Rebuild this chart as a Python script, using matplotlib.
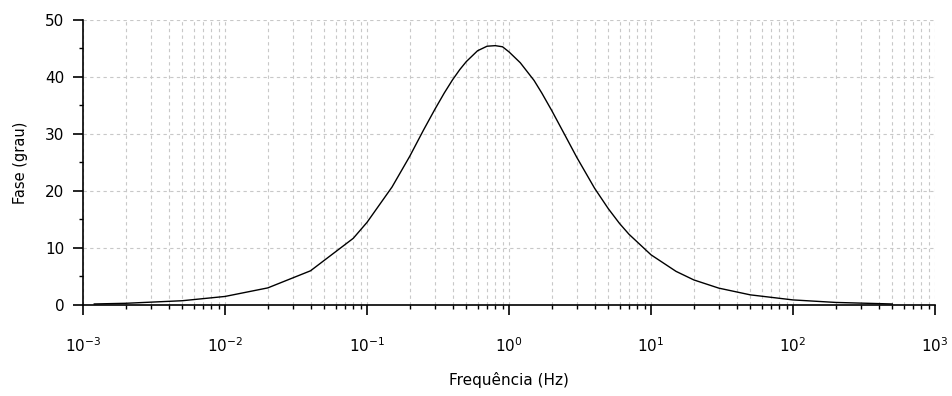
import matplotlib
matplotlib.use("Agg")
import matplotlib.pyplot as plt
from matplotlib.ticker import LogLocator, MultipleLocator, FixedLocator

# values
freq_hz = [1.2e-3, 2e-3, 5e-3, 1e-2, 2e-2, 4e-2, 8e-2, 0.1, 0.15, 0.2, 0.25, 0.3,
           0.35, 0.4, 0.45, 0.5, 0.6, 0.7, 0.8, 0.9, 1.0, 1.2, 1.5, 1.7, 2, 2.5,
           3, 4, 5, 6, 7, 10, 15, 20, 30, 50, 100, 200, 500]
phase_deg = [0.18, 0.30, 0.75, 1.5, 3.0, 6.0, 11.7, 14.5, 20.7, 26.1, 30.7, 34.3,
             37.2, 39.5, 41.3, 42.7, 44.6, 45.4, 45.5, 45.3, 44.4, 42.5, 39.4, 37.2,
             34.1, 29.6, 25.9, 20.5, 16.9, 14.3, 12.4, 8.8, 5.9, 4.4, 2.96, 1.78,
             0.89, 0.45, 0.18]
x_ticks = [1e-3, 1e-2, 1e-1, 1e0, 1e1, 1e2, 1e3]
x_tick_labels = ["$10^{-3}$", "$10^{-2}$", "$10^{-1}$", "$10^{0}$",
                 "$10^{1}$", "$10^{2}$", "$10^{3}$"]
y_ticks = [0, 10, 20, 30, 40, 50]

plt.rcParams["font.family"] = ["DejaVu Sans"]
plt.rcParams["mathtext.fontset"] = "dejavusans"

fig = plt.figure(figsize=(9.52, 3.96), dpi=100)
ax = fig.add_axes([0.0872, 0.2298, 0.8950, 0.7197])

ax.plot(freq_hz, phase_deg, color="black", linewidth=1.0)

ax.set_xscale("log")
ax.set_xlim(1e-3, 1e3)
ax.set_ylim(0, 50)

ax.xaxis.set_major_locator(FixedLocator(x_ticks))
ax.set_xticklabels(x_tick_labels)
ax.xaxis.set_minor_locator(LogLocator(base=10, subs=range(2, 10), numticks=20))
ax.yaxis.set_major_locator(FixedLocator(y_ticks))
ax.yaxis.set_minor_locator(MultipleLocator(5))

for s in ["top", "right"]:
    ax.spines[s].set_visible(False)
for s in ["left", "bottom"]:
    ax.spines[s].set_linewidth(1.2)

ax.tick_params(axis="both", which="major", direction="out", length=7.5, width=1.2,
               labelsize=11, colors="black")
ax.tick_params(axis="both", which="minor", direction="out", length=3, width=1.0)
ax.tick_params(axis="x", which="major", pad=15)
ax.tick_params(axis="y", which="major", pad=6)

ax.grid(True, which="major", axis="both", color="#c8c8c8", linestyle=(0, (3, 3)), linewidth=0.8)
ax.grid(True, which="minor", axis="x", color="#c8c8c8", linestyle=(0, (3, 3)), linewidth=0.8)
ax.set_axisbelow(True)

ax.set_xlabel("Frequência (Hz)", fontsize=11, labelpad=12)
ax.set_ylabel("Fase (grau)", fontsize=10.5, labelpad=12)

fig.savefig("out.png", dpi=100)
